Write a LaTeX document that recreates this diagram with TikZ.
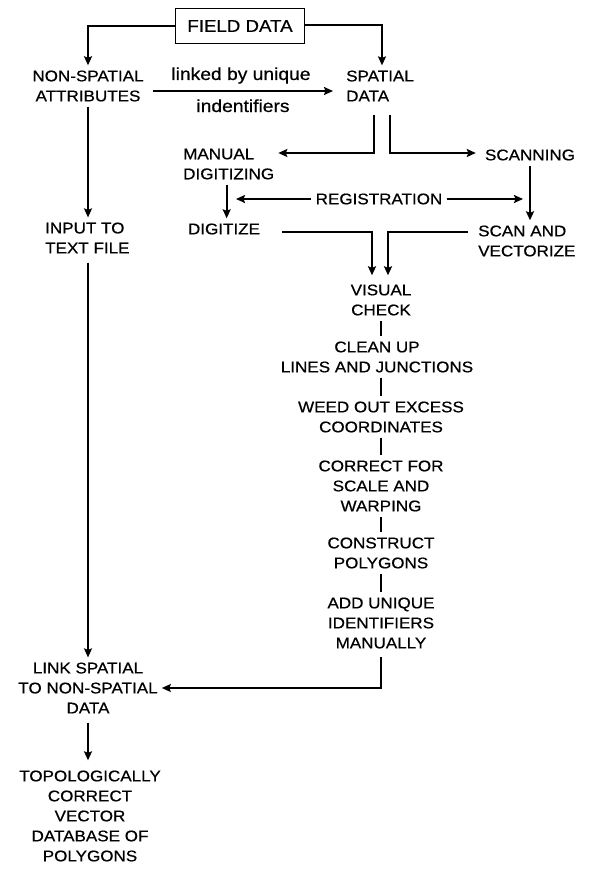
\documentclass[tikz,border=0pt]{standalone}
\usepackage{fontspec}
\setmainfont{Liberation Sans}[FakeStretch=1.1, FakeBold=0.6]
\usetikzlibrary{arrows.meta}
\begin{document}
\begin{tikzpicture}[x=1pt,y=-1pt,
  lbl/.style={inner xsep=4pt, inner ysep=5pt, align=center, font=\fontsize{15.5}{20}\selectfont},
  lbll/.style={lbl, align=left},
  low/.style={inner sep=0pt, font=\fontsize{17.5}{20}\selectfont},
  ln/.style={line width=1.7pt},
  arr/.style={ln, -{Stealth[length=9pt,width=8pt,inset=1.5pt]}}
]
\useasboundingbox (0,0) rectangle (600,883);

% nodes
\node[draw, line width=1.7pt, minimum width=129pt, minimum height=35pt, inner sep=0pt,
      font=\fontsize{17}{20}\selectfont] (field) at (240,26) {FIELD DATA};
\node[lbl] (nonsp) at (88,86) {NON-SPATIAL\\ATTRIBUTES};
\node[lbll, anchor=west] (spat) at (342,86) {SPATIAL\\DATA};
\node[low, anchor=base] (linked) at (241,80) {linked by unique};
\node[low, anchor=base] (ident) at (243,112) {indentifiers};
\node[lbll, anchor=west] (manual) at (179,164) {MANUAL\\DIGITIZING};
\node[lbl] (scan) at (530,155) {SCANNING};
\node[lbl] (reg) at (379,199) {REGISTRATION};
\node[lbl] (digitize) at (224,229) {DIGITIZE};
\node[lbll, anchor=west] (scanvec) at (474,241) {SCAN AND\\VECTORIZE};
\node[lbll, anchor=west] (input) at (41,238) {INPUT TO\\TEXT FILE};
\node[lbl] (visual) at (381,300) {VISUAL\\CHECK};
\node[lbl] (clean) at (377,357) {CLEAN UP\\LINES AND JUNCTIONS};
\node[lbl] (weed) at (381,417) {WEED OUT EXCESS\\COORDINATES};
\node[lbl] (correct) at (381,486) {CORRECT FOR\\SCALE AND\\WARPING};
\node[lbl] (construct) at (381,553) {CONSTRUCT\\POLYGONS};
\node[lbl] (addu) at (381,623) {ADD UNIQUE\\IDENTIFIERS\\MANUALLY};
\node[lbl] (link) at (88,688) {LINK SPATIAL\\TO NON-SPATIAL\\DATA};
\node[lbl] (topo) at (90,816) {TOPOLOGICALLY\\CORRECT\\VECTOR\\DATABASE OF\\POLYGONS};

% connectors
\draw[arr] (field.west) -| (nonsp.north);
\draw[arr] ([yshift=1pt]field.east) -| ([xshift=2pt]spat.north);
\draw[arr, shorten <=5pt, shorten >=9pt] ([yshift=-5pt]nonsp.east) -- ([yshift=-5pt]nonsp.east -| spat.west);

\draw[arr, shorten <=8pt] ([xshift=-6pt]spat.south) |- ([yshift=11pt]manual.east);
\draw[arr, shorten <=8pt, shorten >=5pt] ([xshift=10pt]spat.south) |- ([yshift=2pt]scan.west);

\draw[arr] ([xshift=-2pt]manual.south) -- ([xshift=-2pt]manual.south |- digitize.north);
\draw[arr] (scan.south) -- (scan.south |- scanvec.north);

\draw[arr, shorten >=12pt] (reg.west) -- (reg.west -| digitize.north);
\draw[arr, shorten >=7pt] (reg.east) -- (reg.east -| scan.south);

\draw[arr, shorten <=18pt, shorten >=4pt] ([yshift=-3pt]digitize.east) -| ([xshift=-9pt]visual.north);
\draw[arr, shorten <=6pt, shorten >=4pt] ([yshift=9pt]scanvec.west) -| ([xshift=7pt]visual.north);

\draw[ln] (visual.south) -- (visual.south |- clean.north);
\draw[ln] (visual.south |- clean.south) -- (visual.south |- weed.north);
\draw[ln] (weed.south) -- (weed.south |- correct.north);
\draw[ln] (correct.south) -- (correct.south |- construct.north);
\draw[ln] (construct.south) -- (construct.south |- addu.north);

\draw[arr, shorten <=3pt] (addu.south) |- (link.east);

\draw[arr] (nonsp.south) -- (nonsp.south |- input.north);
\draw[arr, shorten <=4pt] (nonsp.south |- input.south) -- (nonsp.south |- link.north);
\draw[arr, shorten <=4pt, shorten >=5pt] (link.south) -- (link.south |- topo.north);
\end{tikzpicture}
\end{document}
